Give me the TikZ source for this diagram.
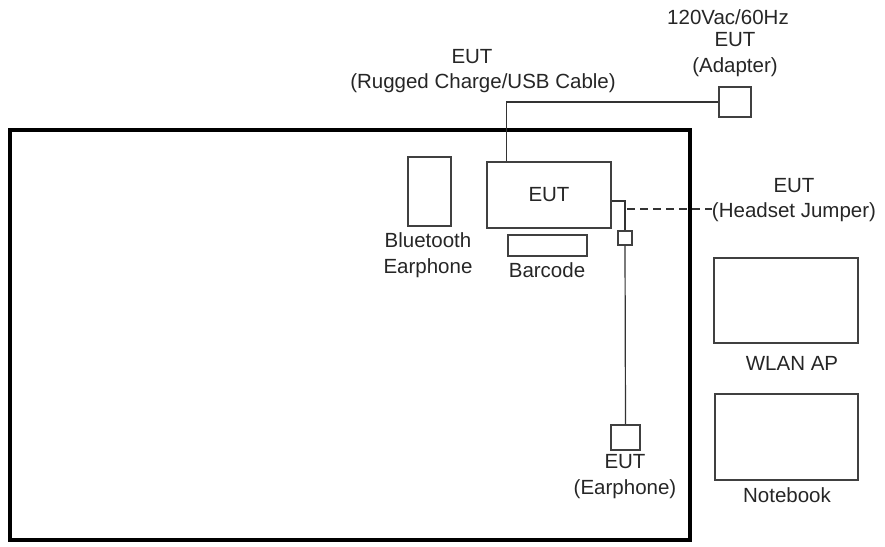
\documentclass[tikz,border=0pt]{standalone}
\usepackage{fontspec}
\setmainfont{Liberation Sans}
\usepackage{tikz}
\usetikzlibrary{positioning}

\begin{document}
\begin{tikzpicture}[x=1pt,y=-1pt,
  box/.style={draw=black!75,line width=1.4pt,inner sep=0pt,fill=white},
  lbl/.style={inner sep=0pt,align=center,text=black!85,font=\fontsize{20.5}{25.5}\selectfont},
  wire/.style={draw=black!80,line width=1.2pt}]
\useasboundingbox (0,0) rectangle (885,546);
% test table
\draw[line width=4.5pt](10,130) rectangle (690,540);
% units inside
\node[box,minimum width=43,minimum height=69](bt) at (429.5,191.5){};
\node[box,minimum width=124,minimum height=66](eut) at (549,195){};
\node[lbl] at (eut){EUT};
\node[box,minimum width=79,minimum height=21](barcode) at (547.5,245.5){};
\node[box,minimum width=14,minimum height=14](jumper) at (625,238){};
\node[box,minimum width=29,minimum height=25](earbox) at (625.5,437.5){};
% units outside
\node[box,minimum width=32,minimum height=30](adapter) at (735,102){};
\node[box,minimum width=144,minimum height=85](wlan) at (786,300.5){};
\node[box,minimum width=143,minimum height=86](notebook) at (786.5,437){};
% labels
\node[lbl](usbtop) at (472,57){EUT};
\node[lbl](usb) at (483,83){(Rugged Charge/USB Cable)};
\node[lbl](mains) at (728,17){120Vac/60Hz};
\node[lbl](adlbl) at (735,54.5){EUT\\(Adapter)};
\node[lbl](hjlbl) at (794,200){EUT\\(Headset Jumper)};
\node[lbl](btlbl) at (428,255){Bluetooth\\Earphone};
\node[lbl](bclbl) at (547,270){Barcode};
\node[lbl](eplbl) at (625,476.5){EUT\\(Earphone)};
\node[lbl](wlanlbl) at (792,363){WLAN AP};
\node[lbl](nblbl) at (787,495){Notebook};
% cables
\draw[wire](eut.north west)++(20,0) |- (adapter.west);
\draw[wire](eut.east)++(0,6) -| (jumper.north);
\draw[wire](jumper.south)--(earbox.north);
\coordinate (tap) at (627,209);
\draw[wire,dash pattern=on 8pt off 5pt](tap)--(tap -| hjlbl.west);
\end{tikzpicture}
\end{document}
